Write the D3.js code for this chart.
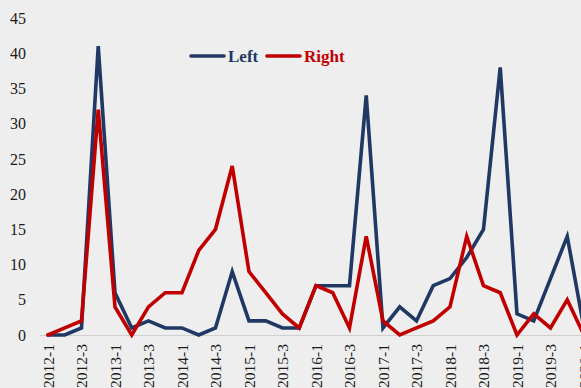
<!DOCTYPE html>
<html>
<head>
<meta charset="utf-8">
<script src="https://cdn.jsdelivr.net/npm/d3@7"></script>
<style>
  html, body { margin: 0; padding: 0; background: #eeeeee; overflow: hidden; }
  svg { display: block; }
</style>
</head>
<body>
<svg id="chart" width="581" height="388"></svg>
<script>
// Quarterly periods, 2012-1 through 2020-1
const quarters = [
  "2012-1","2012-2","2012-3","2012-4",
  "2013-1","2013-2","2013-3","2013-4",
  "2014-1","2014-2","2014-3","2014-4",
  "2015-1","2015-2","2015-3","2015-4",
  "2016-1","2016-2","2016-3","2016-4",
  "2017-1","2017-2","2017-3","2017-4",
  "2018-1","2018-2","2018-3","2018-4",
  "2019-1","2019-2","2019-3","2019-4",
  "2020-1"
];
const leftValues = [
  0, 0, 1, 41,
  6, 1, 2, 1,
  1, 0, 1, 9,
  2, 2, 1, 1,
  7, 7, 7, 34,
  1, 4, 2, 7,
  8, 11, 15, 38,
  3, 2, 8, 14,
  1
];
const rightValues = [
  0, 1, 2, 32,
  4, 0, 4, 6,
  6, 12, 15, 24,
  9, 6, 3, 1,
  7, 6, 1, 14,
  2, 0, 1, 2,
  4, 14, 7, 6,
  0, 3, 1, 5,
  0
];
const yTicks = [0, 5, 10, 15, 20, 25, 30, 35, 40, 45];
const seriesNames = ["Left", "Right"];
const seriesColors = ["#203864", "#c00000"];

const svg = d3.select("#chart");
const plotLeft = 39.6, step = 16.75;
const x = d3.scalePoint()
  .domain(quarters)
  .range([plotLeft, plotLeft + step * quarters.length])
  .padding(0.5);
const y = d3.scaleLinear().domain([0, 45]).range([335, 18]);

const font = "'Liberation Serif', 'Times New Roman', serif";

// y axis labels (no axis line, no tick marks)
const yAxis = svg.append("g")
  .attr("transform", `translate(${plotLeft - 13.5},0)`)
  .call(d3.axisLeft(y).tickValues(yTicks).tickSize(0).tickPadding(0));
yAxis.select(".domain").remove();
yAxis.selectAll("text")
  .attr("font-family", font).attr("font-size", 16).attr("fill", "#1a1a1a");

// category axis along zero, every other quarter labelled
const xAxis = svg.append("g")
  .attr("transform", `translate(0,${y(0)})`)
  .call(d3.axisBottom(x).tickSize(0).tickFormat((d, i) => i % 2 === 0 ? d : ""));
xAxis.select(".domain").attr("stroke", "#d0d0d0").attr("stroke-width", 1);
xAxis.selectAll("text")
  .attr("font-family", font).attr("font-size", 15.5).attr("fill", "#1a1a1a")
  .attr("text-anchor", "end")
  .attr("dy", "0.35em")
  .attr("transform", "translate(0,9) rotate(-90)")
  .attr("x", 0).attr("y", 0);

// series lines
const line = d3.line()
  .x((d, i) => x(quarters[i]))
  .y(d => y(d));
[leftValues, rightValues].forEach((vals, k) => {
  svg.append("path")
    .datum(vals)
    .attr("fill", "none")
    .attr("stroke", seriesColors[k])
    .attr("stroke-width", 3.6)
    .attr("stroke-linejoin", "miter")
    .attr("stroke-linecap", "round")
    .attr("d", line);
});

// legend
const legend = svg.append("g").attr("transform", "translate(191,56)");
const legendX = [0, 76];
seriesNames.forEach((name, k) => {
  const g = legend.append("g").attr("transform", `translate(${legendX[k]},0)`);
  g.append("line")
    .attr("x1", 0).attr("x2", 33).attr("y1", 0).attr("y2", 0)
    .attr("stroke", seriesColors[k]).attr("stroke-width", 3.6)
    .attr("stroke-linecap", "round");
  g.append("text")
    .attr("x", 37).attr("y", 0).attr("dy", "0.35em")
    .attr("font-family", font).attr("font-size", 17).attr("font-weight", "bold")
    .attr("fill", seriesColors[k])
    .text(name);
});
</script>
</body>
</html>
